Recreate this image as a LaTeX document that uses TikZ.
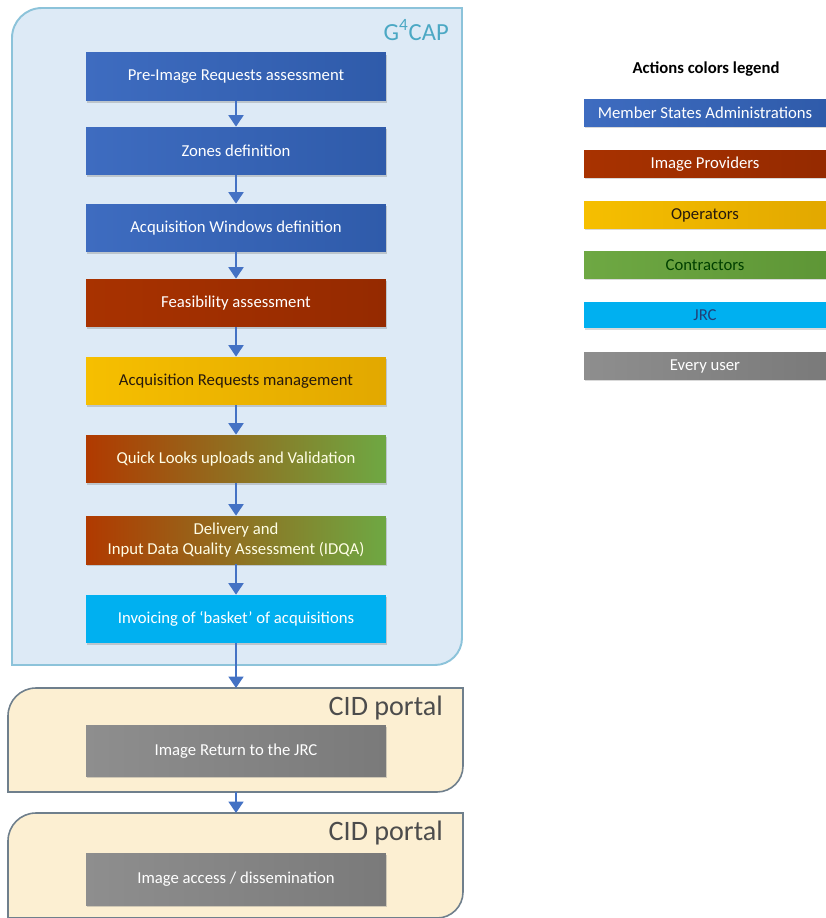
\documentclass[tikz,border=0pt]{standalone}
\usepackage{fontspec}
\setmainfont{Carlito}
\usepackage{tikz}
\usetikzlibrary{arrows.meta,shadows}

\definecolor{msablue}{HTML}{3E6CC0}
\definecolor{msadark}{HTML}{2F5BAA}
\definecolor{provred}{HTML}{A83200}
\definecolor{provdark}{HTML}{952A00}
\definecolor{opergold}{HTML}{F6BF00}
\definecolor{operdark}{HTML}{E2A800}
\definecolor{contrgreen}{HTML}{6EA843}
\definecolor{contrdark}{HTML}{5E9636}
\definecolor{jrcblue}{HTML}{00B0F0}
\definecolor{usergray}{HTML}{8E8E8E}
\definecolor{userdark}{HTML}{7A7A7A}
\definecolor{capfill}{HTML}{DDEAF6}
\definecolor{capline}{HTML}{8CC3DA}
\definecolor{captext}{HTML}{4BA8C4}
\definecolor{cidfill}{HTML}{FCEFD2}
\definecolor{cidline}{HTML}{6F7F8C}
\definecolor{arrowblue}{HTML}{4472C4}

\tikzset{
  action/.style={minimum width=6cm, minimum height=0.96cm, inner sep=0pt,
    align=center, font=\fontsize{9.5}{11}\selectfont,
    drop shadow={opacity=0.35, shadow xshift=0.6pt, shadow yshift=-0.9pt}},
  legendbox/.style={minimum width=4.84cm, minimum height=0.54cm, inner sep=0pt,
    font=\fontsize{9.5}{11}\selectfont,
    drop shadow={opacity=0.3, shadow xshift=0.5pt, shadow yshift=-0.7pt}},
  msa/.style={left color=msablue, right color=msadark, text=white},
  prov/.style={left color=provred, right color=provdark, text=white},
  oper/.style={left color=opergold, right color=operdark, text=black!80!brown},
  contr/.style={left color=contrgreen, right color=contrdark, text=black!75!green},
  mixed/.style={left color=provred!90!orange, right color=contrgreen, text=white!90!yellow},
  jrc/.style={fill=jrcblue, text=white},
  user/.style={left color=usergray, right color=userdark, text=white},
  flow/.style={draw=arrowblue, line width=1.1pt, -{Triangle[width=8.5pt,length=6.5pt]}}
}

\begin{document}
\begin{tikzpicture}[x=0.02cm, y=-0.02cm]
  \useasboundingbox (0,0) rectangle (825,918);

  % G4CAP container
  \draw[fill=capfill, draw=capline, line width=1.1pt]
    (12,665) -- (12,38) .. controls (12,21.4) and (25.4,8) .. (42,8)
    -- (462,8) -- (462,638) .. controls (462,652.9) and (449.9,665) .. (435,665) -- cycle;
  \node[anchor=east, text=captext, font=\fontsize{14}{16}\selectfont] (captitle) at (455,30) {G\textsuperscript{4}CAP};

  % CID portal containers
  \draw[fill=cidfill, draw=cidline, line width=0.9pt]
    (8,792) -- (8,716) .. controls (8,700.5) and (20.5,688) .. (36,688)
    -- (463,688) -- (463,766) .. controls (463,780.4) and (451.4,792) .. (437,792) -- cycle;
  \node[anchor=east, text=black!70, font=\fontsize{16}{18}\selectfont] (cidone) at (449,708) {CID portal};
  \coordinate (cidonetop) at (236,688);
  \coordinate (cidonebot) at (236,792);

  \draw[fill=cidfill, draw=cidline, line width=0.9pt]
    (8,918) -- (8,841) .. controls (8,825.5) and (20.5,813) .. (36,813)
    -- (463,813) -- (463,892) .. controls (463,906.4) and (451.4,918) .. (437,918) -- cycle;
  \node[anchor=east, text=black!70, font=\fontsize{16}{18}\selectfont] (cidtwo) at (449,833) {CID portal};
  \coordinate (cidtwotop) at (236,813);

  % actions
  \node[action, msa] (pre) at (236,77) {Pre-Image Requests assessment};
  \node[action, msa] (zones) at (236,151) {Zones definition};
  \node[action, msa] (windows) at (236,228) {Acquisition Windows definition};
  \node[action, prov] (feas) at (236,303) {Feasibility assessment};
  \node[action, oper] (acqreq) at (236,381) {Acquisition Requests management};
  \node[action, mixed] (qlooks) at (236,459) {Quick Looks uploads and Validation};
  \node[action, mixed] (delivery) at (236,540) {Delivery and\\Input Data Quality Assessment (IDQA)};
  \node[action, jrc] (invoice) at (236,619) {Invoicing of `basket' of acquisitions};
  \node[action, user, minimum height=1.02cm] (retjrc) at (236,751) {Image Return to the JRC};
  \node[action, user, minimum height=1.04cm] (access) at (236,879) {Image access / dissemination};

  \draw[flow] (pre) -- (zones);
  \draw[flow] (zones) -- (windows);
  \draw[flow] (windows) -- (feas);
  \draw[flow] (feas) -- (acqreq);
  \draw[flow] (acqreq) -- (qlooks);
  \draw[flow] (qlooks) -- (delivery);
  \draw[flow] (delivery) -- (invoice);
  \draw[flow] (invoice) -- (cidonetop);
  \draw[flow] (cidonebot) -- (cidtwotop);

  % legend
  \node[font=\bfseries\fontsize{9.5}{11}\selectfont] (legtitle) at (706,69) {Actions colors legend};
  \node[legendbox, msa] (legmsa) at (705,113) {Member States Administrations};
  \node[legendbox, prov] (legprov) at (705,164) {Image Providers};
  \node[legendbox, oper] (legoper) at (705,215) {Operators};
  \node[legendbox, contr] (legcontr) at (705,265) {Contractors};
  \node[legendbox, jrc, text=msadark!70!black] (legjrc) at (705,315) {JRC};
  \node[legendbox, user] (leguser) at (705,366) {Every user};
\end{tikzpicture}
\end{document}
